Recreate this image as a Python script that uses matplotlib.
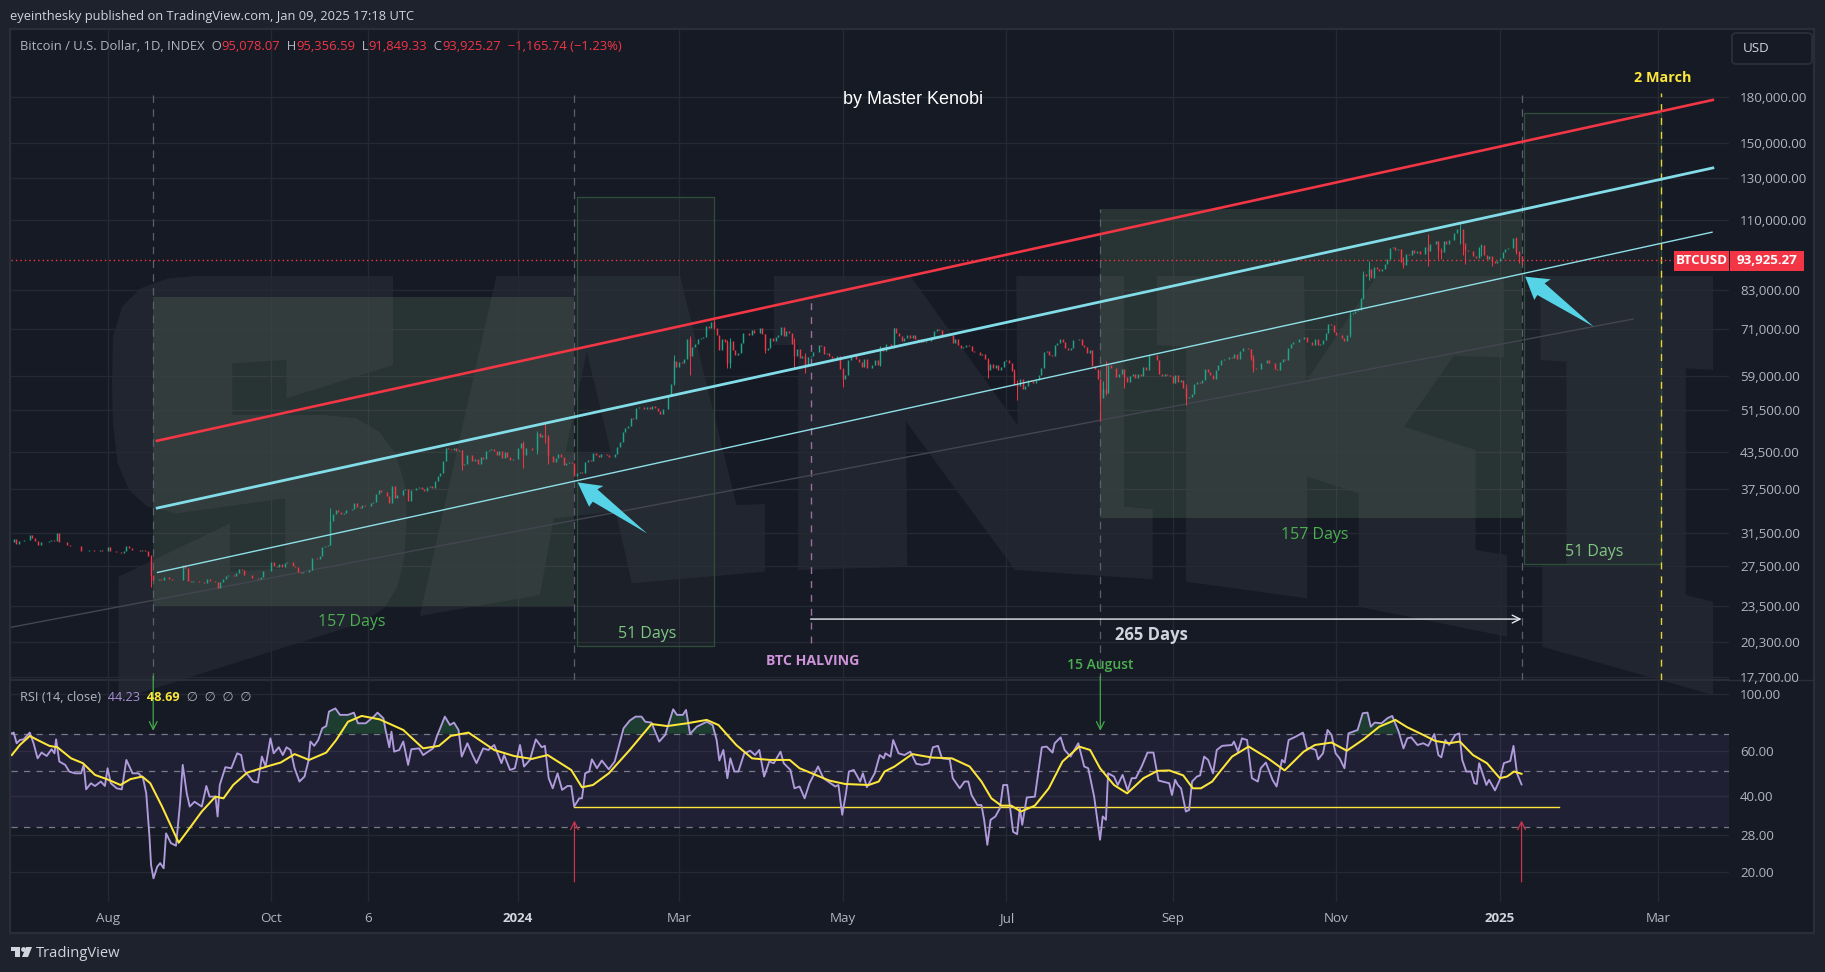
import numpy as np
import matplotlib
matplotlib.use("Agg")
import matplotlib.pyplot as plt
from matplotlib.patches import Polygon, Rectangle, FancyBboxPatch
from matplotlib.ticker import FixedLocator, FixedFormatter, NullLocator

# ---------- data (day = days since 2023-08-01, prices in USD) ----------
closes_k = [
 30.3,30.7,30.1,30.4,30.5,
 30.6,30.6,31.2,30.8,30.5,30.0,30.3,30.3,30.3,30.4,30.6,30.4,31.4,30.3,30.3,30.3,30.0,29.9,29.8,29.9,29.8,29.2,29.3,29.2,29.4,29.4,29.2,29.3,29.4,29.2,29.3,
 29.7,29.2,29.2,29.1,29.1,29.0,29.2,29.8,29.6,29.4,29.4,29.4,29.3,29.4,29.2,28.7,26.6,26.05,26.1,26.2,26.1,26.4,26.4,26.2,26.1,26.0,26.1,26.1,27.7,27.3,25.9,
 25.8,25.9,25.97,25.8,25.8,25.75,26.2,25.9,25.9,25.8,25.2,25.8,26.2,26.5,26.6,26.6,26.5,26.8,27.2,27.1,26.6,26.6,26.6,26.3,26.3,26.2,26.4,27.0,27.0,27.0,
 28.0,27.5,27.4,27.8,27.4,27.9,27.95,27.95,27.6,27.4,26.9,26.75,26.85,26.85,27.15,28.5,28.4,28.3,28.7,29.7,29.9,29.95,33.0,33.9,34.5,34.2,33.9,34.1,34.5,34.5,34.6,
 35.4,34.9,34.7,35.1,35.0,35.0,35.4,35.6,36.7,37.3,37.1,37.0,36.5,35.5,37.9,36.2,36.6,36.6,37.4,37.5,35.8,37.4,37.3,37.7,37.8,37.5,37.2,37.8,37.9,37.7,
 38.7,39.5,40.0,42.0,44.1,44.0,43.8,44.2,43.7,43.8,41.2,41.5,42.9,43.0,41.9,42.2,41.4,42.7,42.3,43.7,43.8,44.0,43.7,43.0,43.6,42.5,43.4,42.6,42.1,42.2,42.3,
 44.2,45.0,42.9,44.2,44.2,43.9,43.9,47.0,46.1,46.6,46.4,42.8,42.8,41.7,42.5,43.1,42.7,41.3,41.6,41.7,41.6,39.5,39.9,40.1,39.9,41.8,42.1,42.0,43.3,42.9,42.6,
 43.1,43.2,43.0,42.6,42.7,43.1,44.3,45.3,47.1,47.8,48.3,49.9,49.7,51.8,52.0,52.1,51.6,52.1,51.7,52.3,51.9,51.3,50.7,51.6,51.7,54.5,57.1,62.5,61.2,
 62.4,62.0,63.1,68.3,63.8,66.1,66.9,68.3,68.5,69.0,72.1,71.5,73.1,71.4,69.5,65.3,68.4,67.6,62.0,67.9,65.5,64.0,64.5,67.2,69.9,69.9,69.5,70.8,70.0,69.9,71.3,
 69.7,65.5,65.9,68.5,67.8,69.0,69.4,71.6,69.1,70.6,70.0,67.1,63.9,65.7,63.4,63.8,61.3,63.5,63.8,64.9,64.9,66.8,66.4,64.3,64.5,63.8,63.4,63.1,63.8,60.6,
 58.3,59.1,62.9,63.9,64.0,63.2,62.3,61.2,63.0,60.8,60.8,61.5,62.9,61.5,66.2,65.2,67.0,66.9,66.3,71.4,70.1,69.1,67.9,68.5,69.3,68.5,69.4,68.4,67.6,68.4,67.5,
 67.7,67.8,68.8,70.5,71.1,70.8,69.4,69.3,69.6,69.5,67.3,68.2,66.8,66.0,66.2,66.7,66.5,65.2,65.0,64.9,64.1,64.3,63.2,60.3,61.8,60.9,61.6,60.4,61.0,62.7,
 62.9,62.0,60.2,57.0,56.7,58.2,55.9,56.7,58.0,57.7,57.3,57.9,59.2,60.8,64.8,65.1,64.1,63.9,66.7,67.2,68.2,67.6,65.9,65.4,65.8,68.0,68.0,68.3,66.8,66.2,64.6,
 65.3,61.4,60.7,58.2,53.9,56.0,55.1,61.7,60.9,60.9,58.7,59.4,60.6,58.7,57.5,58.9,59.5,58.4,59.5,59.0,61.2,60.4,64.1,64.2,64.2,62.9,59.4,59.0,59.4,59.1,58.9,
 57.3,59.1,57.5,58.0,56.2,53.9,54.2,54.9,57.0,57.6,57.3,58.1,60.5,60.0,59.2,58.2,60.3,61.7,62.9,63.2,63.2,63.6,63.3,64.3,63.2,65.2,65.8,65.9,65.6,63.3,
 60.8,60.6,60.7,62.1,62.1,62.8,62.2,62.1,60.6,60.3,62.4,63.2,62.9,66.0,67.0,67.6,67.4,68.4,68.4,69.0,67.4,67.4,66.7,68.2,66.6,67.0,68.0,69.9,72.7,72.3,70.2,
 69.5,69.3,68.7,67.8,69.4,75.6,75.9,76.5,76.7,80.4,88.6,87.9,90.5,87.4,91.1,90.6,89.8,90.5,92.3,94.3,98.4,98.9,97.7,98.0,93.0,91.9,95.9,95.6,97.4,96.4,
 97.3,95.9,96.0,98.8,97.0,99.9,99.9,101.2,97.4,96.6,101.2,100.0,101.4,101.4,104.5,106.1,106.1,100.2,97.5,97.2,97.2,95.1,94.6,98.7,99.4,95.8,94.2,95.1,93.5,92.8,93.4,
 94.4,96.9,98.1,98.2,98.3,102.2,96.9,95.1,93.9]
last_day = 527

wick_days  = [16,83,132,155,160,163,164,211,217,226,231,232,245,256,260,274,288,293,328,338,339,370,371,372,379,402,426,427,463,468,470,483,492,496,497,504,505,506,512,516,525,526,527]
wick_highs = [28.8,34.7,43.8,45.5,47.2,48.9,46.5,64.0,69.2,73.8,68.1,68.5,69.7,68.5,64.5,60.8,66.4,71.5,63.3,60.5,58.0,58.3,57.7,62.7,59.8,57.0,65.6,64.1,76.4,89.6,93.3,94.7,104.0,101.0,98.2,108.3,102.8,98.0,99.9,94.9,102.7,97.2,95.36]
wick_lows  = [25.3,30.0,40.5,40.8,43.2,45.0,41.5,56.8,59.2,71.0,60.8,60.8,64.5,60.7,59.7,56.5,61.3,66.0,58.5,56.8,53.5,49.2,54.5,54.7,56.2,52.5,62.9,60.0,69.0,80.2,86.7,90.8,91.5,94.2,94.3,100.0,95.6,92.2,95.2,91.4,96.1,92.5,91.85]

rsi_days = [-35.7,-35,-33.9,-32.7,-31.3,-29,-27.6,-26.1,-24.6,-22.7,-20.9,-19.8,-19.2,-18,-15.8,-14.3,-12.1,-9.9,-8.9,-8,-6.2,-4.7,-2.5,-1,0,1.2,3.4,5.3,7,9.3,11.5,13.2,14.4,15.6,16.2,17.1,18.5,19.6,20.9,21.8,23.6,25.5,27,28,29.5,30.6,32.4,35.1,36.8,38,40.2,41,41.8,43.9,46.1,48.3,49.8,50.8,52.7,54.2,56,57.5,58.9,60.7,61.9,63.8,65.3,66.7,68.2,69.7,71.5,73.4,74.8,75.6,77,78.5,80,81.5,82.5,84.9,86.6,89.6,91.8,93.3,96.2,99.2,100.6,102.8,103.6,105,105.8,106.8,108.7,110.2,112,113.2,116.1,117.6,121.3,122.7,125.7,127.6,129.1,130.8,132,134.1,136,137.5,140,141.9,144.1,146.8,147.8,150,151.8,153.7,155.2,157.4,159.6,161.8,163,164.4,165.9,167.7,169.4,171.4,172.8,173.9,175.8,176.8,178,179.5,180.5,182.4,184.2,186.8,189,
 192.3,194.6,196.8,199,200.4,202.7,205.6,207.8,210.8,212.2,214.4,215.6,217.1,219.6,223.3,225.5,227,228,229.5,231,232.1,233.6,235.1,237.3,239.5,241.3,242.9,244.7,246.6,248.3,250.8,252,254.5,256,257.9,259.8,261.6,264.8,266.8,271.2,272.4,273.8,275.2,276.3,278.1,280.5,281.5,283,285.9,287.8,289.3,289.9,291.8,292.8,294.8,297,299.2,301.4,303.6,306.1,307.6,309.5,311,313.9,315,317.6,319.4,320.8,322,324.2,325.7,326.7,327.9,329.1,330.9,332.6,333.8,335.3,337.5,339,340,340.9,342.6,345.6,348.2,350,352.2,353,355.2,356.7,358.9,361.8,364,365.5,367.7,369.9,370.9,372.1,372.9,375.1,376.5,378.3,380.2,381.7,383.2,385.4,387.6,389.8,391.7,395.7,396.7,397.9,398.9,400.1,401.9,403.1,404.2,406,
 407.2,408.7,410.2,412,413.4,415.4,419.1,419.8,421.3,422.8,424.7,426.5,428.7,429.8,431.7,434.2,435.7,437.7,438.7,440.2,442.9,445.5,447,448.8,450.3,451.2,453,454.7,456.2,457.7,459.2,461,462.5,465.9,467.8,469.6,470.8,472.3,474.8,477,478.8,481.2,483,484.4,485.9,488.2,490.4,492.2,494.5,496,497.1,498.6,500,502.3,503.8,504.9,506.4,508.2,509.4,510.3,511.2,513.9,514.9,517.1,518.9,520.4,522.8,524,525.3,527]
rsi_vals = [70.2,70.7,64.2,66.1,66.5,70.7,64.2,56,59,57.2,60.8,58.6,66.5,54.4,52.8,49.7,48.9,48.9,52.8,42.3,44.7,43.6,45.4,43.6,51.2,44.7,42.7,42.3,55.2,48.9,48.9,46.8,40.8,27.6,21.3,18.9,21,21.7,20.7,28.4,26,25.4,37.3,52.8,40.8,36.2,37.8,36.2,43.6,39.6,39.6,33.1,44,51.7,51.2,58.6,57.7,50.4,47.5,45.4,45,56.9,52,67.1,58.6,61.9,57.7,61.9,60.4,51.2,45.4,47.5,54.4,65.2,62.7,66.1,73.5,75,85.5,88,83,83,84.7,76.9,76.9,81.7,84.7,80.5,72.4,61.9,71.3,59.5,60.4,65.2,52.8,60.8,61.3,57.7,61.3,68.2,81.7,75.7,77.4,72.4,56.9,64.2,57.7,53.6,61.3,60.4,63.2,53.6,57.7,50.4,51.2,63.2,52,55.2,66.5,61.9,62.7,46.8,42.7,48.9,42.1,43.6,43.6,36.2,39,39,48.9,49.7,55.5,51.2,54.9,50.7,54.4,
 73.5,78.8,81.7,81.7,78,77.4,65.2,69.2,87.3,83,83,86.8,69.8,74.6,78,75.7,66.1,54.9,60.4,46.8,56,49.7,49.7,58.6,60,57.7,60.4,47.5,54.4,53.6,59.5,53.6,50.4,42.7,43.4,39,44.7,52,46.8,43.4,44,33.6,40.8,49.7,50.4,45.4,48.9,43.1,48.9,57.7,56,58.6,56.9,66.1,58.6,57.7,59.5,53.3,52.8,53.6,61.9,62.7,56,55.5,46.8,42.7,45.4,45.4,40.2,36.7,36.7,32.1,25.6,32.1,33.1,35.7,44,44,28.8,28.2,35.7,30.7,39.3,39.6,61.9,62.3,59,64.2,67.7,60.4,56.9,64.2,52,51.2,39.6,26.8,33.1,32.1,48.9,47.5,44,48.2,41.9,46.8,46.8,52,59,59,45.8,44.7,40.2,46.1,44,42.7,34.6,35.1,45.4,47.5,
 48,56.9,55.2,48.9,60.4,62.7,63.2,65.2,59.5,67.1,66.1,46.8,45.4,51.2,53.9,46.1,43.4,55.2,53.9,66.1,68.2,70.7,61.3,61.3,60.4,55.5,58.6,72.4,69.2,58.6,56,51.2,70.2,72.4,84.2,84.7,74.6,77.4,76.9,80.5,82.2,71.3,61.3,67.1,67.7,63.2,64.2,62.7,69.8,57.7,56.5,66.1,63.2,69.2,70.2,55.2,49.7,49.7,44.7,44.4,53.6,44,46.1,41.9,46.1,53.6,54.7,62.7,48.9,44.23]

ma_days = [-35.7,-32.7,-29,-26.1,-21.7,-18.7,-13.6,-9.2,-4.7,-.3,4.8,8.5,12.9,15.9,20.3,26.5,30.6,35.1,40.2,43.2,46.8,52,60.1,64.5,69.7,75.1,81.5,85.2,89.6,94.7,101.4,110.2,117.6,123.5,127.9,134.5,144.1,151.5,158.1,164,172.8,176.8,180.9,186.8,
 194.6,202.7,208.6,215.9,223.3,227.7,234.3,240.2,246.9,254.2,257.9,269,274.9,283.7,287.4,289.6,293.3,299.9,307.3,314.7,321.3,325.7,329.4,333.1,336.8,340.4,345.6,350.8,355.9,362.1,366.2,369.9,375.1,380,386.1,391.3,395.7,400.9,404.5,407.5,
 411.7,414.6,419.1,425.3,432.5,438.7,445.8,450,456.2,461.9,468.1,474,480,484.4,490.4,494.8,500,504,508.9,514.1,518.9,521.6,524.2,527]
ma_vals = [57.7,63.2,68.6,66.1,62.7,61.9,56,53.6,48.2,46.4,44,46.4,47.5,44.7,36.2,26.1,29.8,34.6,39.6,39,44,49.2,52.3,53.9,58.2,55.2,59,66.1,78,82.2,79.7,72.4,61.3,62.7,68.6,70.7,60.4,57.2,55.7,57.7,50.4,43.1,44,48.9,
 60.4,76.4,75,76.9,79.3,75.7,63.2,56,55.2,55.2,51.2,45.8,44.4,44,45.4,49.7,52,58.2,56.4,56,52,45.4,39,36.5,36.5,34.6,36.5,42.7,54.4,62.3,60.4,51.2,44,40.8,46.8,50,50.2,48,42.7,42.7,
 45.4,49.7,56.9,62.3,56,50.2,59.5,63.2,64.6,60,66.5,74.6,79.3,74.2,69.2,65.6,64.2,65.2,57.7,53.6,46.8,47.5,49.7,48.69]

price_ticks = [180000,150000,130000,110000,83000,71000,59000,51500,43500,37500,31500,27500,23500,20300,17700]
rsi_ticks = [100,60,40,28,20]
date_days = [0,61,97,153,213,274,335,397,458,519,578]
date_labels = ["Aug","Oct","6","2024","Mar","May","Jul","Sep","Nov","2025","Mar"]
last_close = 93925.27

red_days, red_prices = [18.4,598.3],[45470,177860]
cyan_days, cyan_prices = [18.5,598.3],[34740,135500]
thin_days, thin_prices = [18.6,598.0],[26850,104770]
gray_days, gray_prices = [-36,568.5],[21560,74000]

# ---------- layout ----------
W,H = 1825,972
BG_OUT,BG_PANE = "#1e222d","#161a25"
GRID,TXT = "#252933","#b2b5be"
UP,DOWN = "#1fa58a","#f23645"
plt.rcParams['font.family'] = ['Open Sans','DejaVu Sans']

fig = plt.figure(figsize=(W/100,H/100),dpi=100,facecolor=BG_OUT)
bg = fig.add_axes([0,0,1,1],zorder=0)
bg.set_xlim(0,W); bg.set_ylim(H,0); bg.axis("off")
bg.add_patch(Rectangle((10,29),1804,904,fc=BG_PANE,ec="#2a2e39",lw=1.6))

# watermark letters (shapes only)
def z9(p): return [(90+x/2.178,250+y/3) for x,y in p]
def z10(p): return [(780+x/1.6505,250+y/3) for x,y in p]
WM = "#21252f"
S = z9([(660,78),(230,78),(170,85),(110,115),(70,170),(50,260),(48,400),(50,520),(60,640),(85,720),(125,770),(190,790),(425,745),(425,955),(305,965),(305,820),(62,980),(62,1350),(520,1150),(590,1120),(640,1075),(670,1010),(685,920),(690,800),(685,700),(665,610),(630,545),(580,505),(510,495),(310,495),(310,340),(428,330),(428,445),(660,345)])
A = z9([(885,78),(1285,78),(1408,765),(1470,762),(1470,965),(1180,1000),(1145,785),(1010,805),(980,1035),(718,1098)])
Ah = z9([(1082,305),(1035,610),(1135,610)])
N = z10([(-10,78),(215,78),(392,525),(390,78),(568,78),(568,770),(615,778),(615,988),(388,960),(208,515),(210,950),(30,960),(30,285),(-10,285)])
K = z10([(622,78),(865,78),(868,395),(985,78),(1195,78),(1195,322),(1112,318),(1030,530),(1148,600),(1148,900),(1200,915),(1200,1160),(955,1070),(955,730),(870,680),(870,1045),(670,995),(670,290),(622,285)])
I = z10([(1255,78),(1540,78),(1540,360),(1495,355),(1495,1035),(1540,1055),(1540,1335),(1258,1190),(1258,945),(1298,940),(1298,335),(1255,330)])
for poly in (S,A,N,K,I):
    bg.add_patch(Polygon(poly,fc=WM,ec="none"))
bg.add_patch(Polygon(Ah,fc=BG_PANE,ec="none"))

# panes
def pane(top,bot):
    return fig.add_axes([11/W,1-bot/H,(1729-11)/W,(bot-top)/H],zorder=2)
ax = pane(30,680)
rs = pane(680,902)
bg.plot([11,1729],[680,680],color="#2a2e39",lw=1.4)
bg.plot([1729,1814],[680,680],color="#2a2e39",lw=1.0)

def px_to_day(x): return (x-107.6)/2.683
for a in (ax,rs):
    a.patch.set_alpha(0)
    a.set_xlim(px_to_day(11),px_to_day(1729))
    a.set_yscale("log")
    for s in a.spines.values(): s.set_visible(False)
    a.xaxis.set_major_locator(FixedLocator(date_days))
    a.yaxis.set_minor_locator(NullLocator())
    a.xaxis.set_minor_locator(NullLocator())
    a.grid(True,color=GRID,lw=1.0,zorder=0)
    a.yaxis.tick_right()
    a.tick_params(axis="both",length=0,labelcolor=TXT,labelsize=9.6,pad=8)
    a.set_axisbelow(True)
ax.set_ylim(17460,235300)
rs.set_ylim(15.26,113.8)
ax.yaxis.set_major_locator(FixedLocator(price_ticks))
ax.yaxis.set_major_formatter(FixedFormatter([f"{v:,.2f}" for v in price_ticks]))
rs.yaxis.set_major_locator(FixedLocator(rsi_ticks))
rs.yaxis.set_major_formatter(FixedFormatter([f"{v:.2f}" for v in rsi_ticks]))
ax.tick_params(axis="x",labelbottom=False)
rs.xaxis.set_major_formatter(FixedFormatter(date_labels))
rs.tick_params(axis="x",pad=7,labelsize=9.6)
for t,l in zip(rs.get_xticklabels(),date_labels):
    if l in ("2024","2025"):
        t.set_fontweight("bold"); t.set_color("#d1d4dc")

# zones
ax.add_patch(Rectangle((17,23440),157,80880-23440,fc="#9ccc8c",alpha=.14,ec="none",zorder=1))
ax.add_patch(Rectangle((370,33370),157,115000-33370,fc="#9ccc8c",alpha=.14,ec="none",zorder=1))
for d0,d1,lo,hi in ((175,226,20020,120650),(528,579,27790,168840)):
    ax.add_patch(Rectangle((d0,lo),d1-d0,hi-lo,fc="#9ccc8c",alpha=.04,ec="none",zorder=1))
    ax.add_patch(Rectangle((d0,lo),d1-d0,hi-lo,fc="none",ec="#2f5038",lw=.9,zorder=1.5))

# vertical markers
ax.vlines([17,174,527],17460,182900,color="#5d606b",lw=.9,ls=(0,(6,5)),zorder=2)
ax.vlines([370],17460,115000,color="#5d606b",lw=.9,ls=(0,(6,5)),zorder=2)
ax.vlines([262],20260,79900,color="#9a6fa0",lw=1,ls=(0,(5,5)),zorder=2)
ax.vlines([579],17460,182900,color="#e8d434",lw=1,ls=(0,(5,5)),zorder=2)

# channel
ax.plot(gray_days,gray_prices,color="#434651",lw=1,zorder=3)
ax.plot(thin_days,thin_prices,color="#8fdfe8",lw=1,zorder=5)
ax.plot(cyan_days,cyan_prices,color="#82dde8",lw=2,zorder=5)
ax.plot(red_days,red_prices,color="#f23645",lw=1.9,zorder=5)

# candles
closes = np.array(closes_k)*1000
days = np.arange(last_day-len(closes)+1,last_day+1)
opens = np.r_[closes[0],closes[:-1]]
cols = [UP if c>=o else DOWN for o,c in zip(opens,closes)]
ax.vlines(days,np.minimum(opens,closes),np.maximum(opens,closes),colors=cols,lw=1.05,zorder=4)
wd = np.array(wick_days)
wcols = [cols[list(days).index(d)] for d in wick_days]
ax.vlines(wd,np.array(wick_lows)*1000,np.array(wick_highs)*1000,colors=wcols,lw=.7,zorder=4)

# last price
ax.axhline(last_close,color=DOWN,lw=1,ls=(0,(1,2.2)),zorder=3)

# white span arrow
ax.annotate("",xy=(527,22280),xytext=(262,22280),arrowprops=dict(arrowstyle="->",color="#e6e8ee",lw=1,shrinkA=0,shrinkB=0,mutation_scale=14),zorder=6)

# RSI pane
rs.axhspan(30,70,color="#7e57c2",alpha=.1,lw=0,zorder=1)
for v in (70,50,30):
    rs.axhline(v,color="#787b86",lw=.9,ls=(0,(5,5)),zorder=2)
rv = np.array(rsi_vals); rd = np.array(rsi_days)
rs.fill_between(rd,70,rv,where=rv>70,interpolate=True,color="#1f4a34",alpha=.75,lw=0,zorder=2)
rs.plot(rd,rv,color="#b09cdc",lw=1.35,zorder=4)
rs.plot(ma_days,ma_vals,color="#fde73a",lw=1.45,zorder=5)
rs.plot([174,541],[36.2,36.2],color="#fde73a",lw=1,zorder=3)
for d in (17,370):
    rs.annotate("",xy=(d,71.9),xytext=(d,118),annotation_clip=False,
        arrowprops=dict(arrowstyle="->",color="#43a84a",lw=.9,shrinkA=0,shrinkB=0,mutation_scale=14),zorder=6)
for d in (174,527):
    rs.annotate("",xy=(d,31.9),xytext=(d,18.3),
        arrowprops=dict(arrowstyle="->",color="#c8344f",lw=.9,shrinkA=0,shrinkB=0,mutation_scale=14),zorder=6)

# text overlay
ov = fig.add_axes([0,0,1,1],zorder=5)
ov.set_xlim(0,W); ov.set_ylim(H,0); ov.axis("off"); ov.patch.set_alpha(0)
# cyan arrows
ov.add_patch(Polygon(z9([(1062,697),(1118,708),(1105,718),(1213,850),(1095,755),(1087,770)]),fc="#56d3e6",ec="none"))
ov.add_patch(Polygon(z10([(1230,80),(1272,88),(1262,100),(1343,230),(1250,135),(1245,150)]),fc="#56d3e6",ec="none"))

def T(x,y,s,c=TXT,fs=9.6,ha="left",**k):
    return ov.text(x,y,s,color=c,fontsize=fs,ha=ha,va="center",**k)
T(10,16.5,"eyeinthesky published on TradingView.com, Jan 09, 2025 17:18 UTC","#d1d4dc",9.3)
x=20
for s,c in (("Bitcoin / U.S. Dollar, 1D, INDEX",TXT),("  O",TXT),("95,078.07",DOWN),("  H",TXT),("95,356.59",DOWN),("  L",TXT),("91,849.33",DOWN),("  C",TXT),("93,925.27",DOWN),("  −1,165.74 (−1.23%)",DOWN)):
    t=T(x,46.5,s,c,9.4)
    x=t.get_window_extent(fig.canvas.get_renderer()).x1
x=20
for s,c,w in (("RSI (14, close)",TXT,"normal"),("  44.23","#a78fd6","normal"),("  48.69","#fde73a","bold"),("  ∅  ∅  ∅  ∅",TXT,"normal")):
    t=T(x,697.5,s,c,9.2,fontweight=w)
    x=t.get_window_extent(fig.canvas.get_renderer()).x1
T(913,99.5,"by Master Kenobi","#ffffff",13,"center",family="Liberation Sans")
T(1662.5,78,"2 March","#fde73a",10.4,"center",fontweight="bold")
T(352,621.5,"157 Days","#4caf50",11.5,"center")
T(1315,534.5,"157 Days","#4caf50",11.5,"center")
T(647,633.5,"51 Days","#81c784",11.5,"center")
T(1594,551.5,"51 Days","#81c784",11.5,"center")
T(1151,634.5,"265 Days","#d1d4dc",12,"center",fontweight="bold")
T(812.5,660.5,"BTC HALVING","#ce93d8",10.2,"center",fontweight="bold")
T(1100.5,665,"15 August","#4caf50",10,"center",fontweight="semibold")

# price labels
ov.add_patch(Rectangle((1674,251),55,19.5,fc=DOWN,ec="none"))
ov.add_patch(Rectangle((1730,251),74,19.5,fc=DOWN,ec="none"))
T(1701.5,260.5,"BTCUSD","#ffffff",9.6,"center",fontweight="bold")
T(1767,260,"93,925.27","#ffffff",9.6,"center",fontweight="bold")
ov.add_patch(FancyBboxPatch((1735,36),74,25,boxstyle="round,pad=3,rounding_size=4",fc=BG_PANE,ec="#2a2e39",lw=1.3))
T(1743,48.5,"USD","#d1d4dc",9.6)

# footer
ov.add_patch(Polygon([(11,947),(20.5,947),(20.5,957),(15.5,957),(15.5,950.5),(11,950.5)],fc="#d1d4dc",ec="none"))
ov.add_patch(Polygon([(26,947),(32,947),(28,957),(22,957)],fc="#d1d4dc",ec="none"))
ov.scatter([23],[949],s=12,color="#d1d4dc",lw=0)
T(36,953,"TradingView","#d1d4dc",10.6)

fig.savefig("out.png",dpi=100,facecolor=fig.get_facecolor())
